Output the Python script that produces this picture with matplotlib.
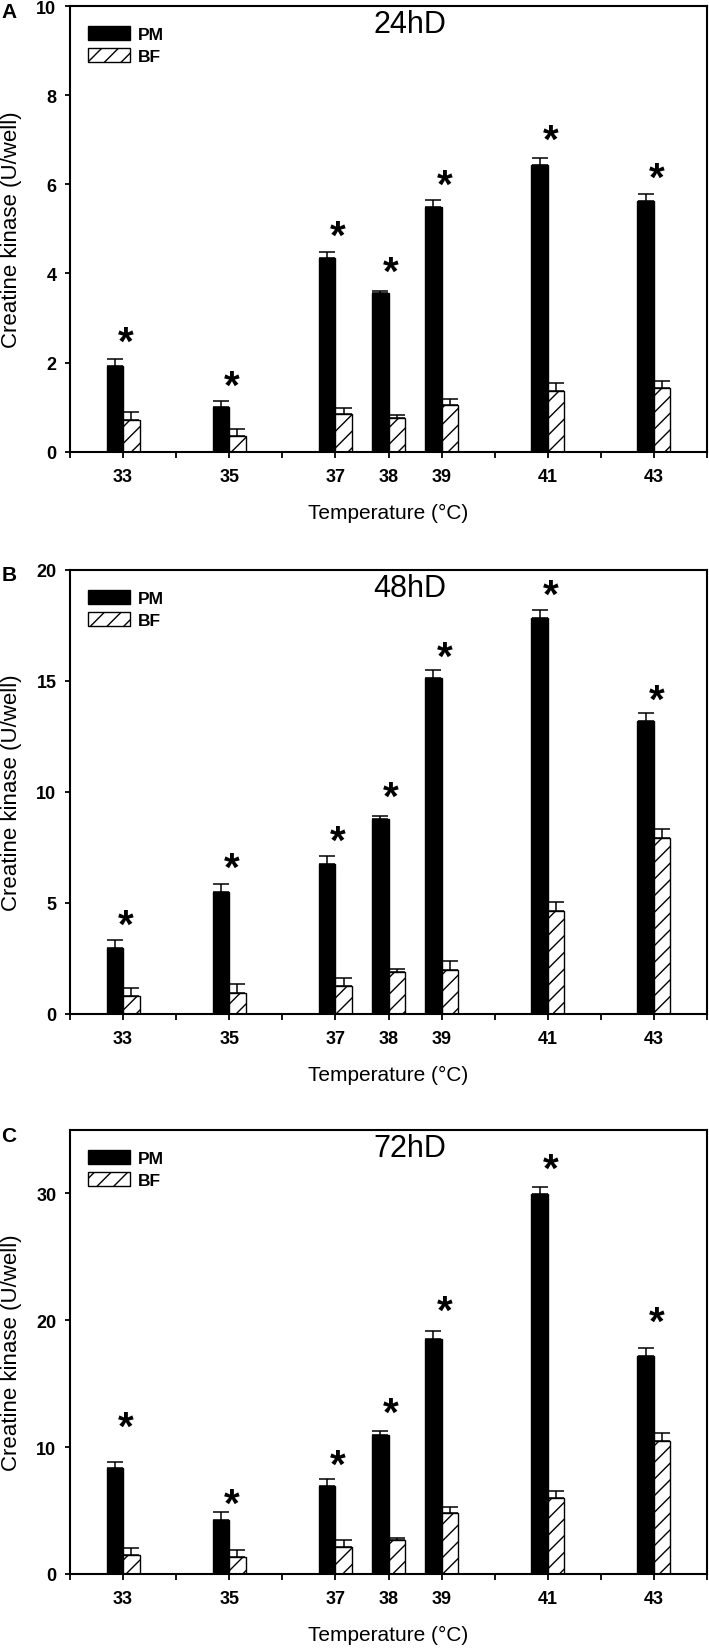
import numpy as np
import matplotlib
matplotlib.use("Agg")
import matplotlib.pyplot as plt
from matplotlib.transforms import offset_copy

plt.rcParams['font.family'] = ['Liberation Sans', 'DejaVu Sans']
plt.rcParams['hatch.linewidth'] = 1.0

temps = [33, 35, 37, 38, 39, 41, 43]

# 24 h differentiation
pm_24 = [1.93, 1.00, 4.34, 3.55, 5.48, 6.44, 5.63]
pm_24_err = [0.16, 0.13, 0.15, 0.05, 0.16, 0.16, 0.15]
bf_24 = [0.72, 0.36, 0.84, 0.76, 1.05, 1.37, 1.43]
bf_24_err = [0.16, 0.15, 0.14, 0.06, 0.14, 0.17, 0.16]
star_24 = [2.70, 1.72, 5.09, 4.27, 6.24, 7.23, 6.38]

# 48 h differentiation
pm_48 = [2.99, 5.51, 6.76, 8.76, 15.14, 17.82, 13.18]
pm_48_err = [0.36, 0.36, 0.37, 0.15, 0.35, 0.38, 0.38]
bf_48 = [0.80, 0.95, 1.24, 1.91, 1.99, 4.65, 7.93]
bf_48_err = [0.39, 0.38, 0.40, 0.13, 0.39, 0.37, 0.38]
star_48 = [4.51, 7.08, 8.28, 10.24, 16.55, 19.36, 14.62]

# 72 h differentiation
pm_72 = [8.36, 4.28, 6.91, 10.99, 18.53, 29.95, 17.21]
pm_72_err = [0.49, 0.57, 0.54, 0.26, 0.62, 0.54, 0.60]
bf_72 = [1.51, 1.34, 2.14, 2.65, 4.80, 5.97, 10.51]
bf_72_err = [0.52, 0.52, 0.54, 0.17, 0.46, 0.54, 0.60]
star_72 = [12.42, 6.42, 9.42, 13.56, 21.61, 32.83, 20.75]

panels = [
    ("A", "24hD", pm_24, pm_24_err, bf_24, bf_24_err, star_24, 10, np.arange(0, 11, 2)),
    ("B", "48hD", pm_48, pm_48_err, bf_48, bf_48_err, star_48, 20, np.arange(0, 21, 5)),
    ("C", "72hD", pm_72, pm_72_err, bf_72, bf_72_err, star_72, 35, np.arange(0, 31, 10)),
]

W, H = 709, 1649
fig = plt.figure(figsize=(W / 100, H / 100), dpi=100)

# axes boxes in pixels: (top, bottom)
boxes = [(7, 452.7), (570.7, 1015), (1131, 1575)]
left_px, right_px = 70, 707
width = 0.31

for (letter, title, pm, pm_err, bf, bf_err, stars, ymax, yticks), (top, bot) in zip(panels, boxes):
    ax = fig.add_axes([left_px / W, 1 - bot / H, (right_px - left_px) / W, (bot - top) / H])
    x = np.array(temps, dtype=float)
    pm_bars = ax.bar(x - width / 2, pm, width, color='black', edgecolor='black', label='PM', zorder=2)
    bf_bars = ax.bar(x + width / 2, bf, width, color='white', edgecolor='black', linewidth=1.0,
                     hatch='//', label='BF', zorder=2)
    ax.errorbar(x - width / 2, pm, yerr=[np.zeros(len(pm)), pm_err], fmt='none', ecolor='black',
                elinewidth=1.1, capsize=6, capthick=1.1, zorder=1)
    ax.errorbar(x + width / 2, bf, yerr=[np.zeros(len(bf)), bf_err], fmt='none', ecolor='black',
                elinewidth=1.1, capsize=6, capthick=1.1, zorder=1)

    fs_star = 29
    trans = offset_copy(ax.transData, fig=fig, y=-0.565 * fs_star, units='points')
    for t, s in zip(temps, stars):
        ax.text(t + 0.05, s, '*', fontsize=fs_star, fontweight='bold', ha='center',
                va='baseline', transform=trans)

    ax.set_xlim(32, 44)
    ax.set_ylim(0, ymax)
    ticks = list(range(32, 45))
    ax.set_xticks(ticks)
    ax.set_xticklabels([str(t) if t in temps else '' for t in ticks], fontsize=13, fontweight='bold')
    ax.set_yticks(yticks)
    ax.set_yticklabels([str(v) for v in yticks], fontsize=13, fontweight='bold')
    ax.tick_params(axis='x', direction='out', length=4.5, width=1.3, pad=7)
    ax.tick_params(axis='y', direction='out', length=3.8, width=1.3, pad=6)
    for sp in ax.spines.values():
        sp.set_linewidth(1.5)

    ax.set_xlabel('Temperature (°C)', fontsize=15, labelpad=13)
    ax.set_ylabel('Creatine kinase (U/well)', fontsize=16, labelpad=10)

    ax.text(0.534, 1 - 18 / (bot - top), title, transform=ax.transAxes, fontsize=22,
            ha='center', va='center')

    ax.legend(handles=[pm_bars, bf_bars], labels=['PM', 'BF'], loc='upper left',
              bbox_to_anchor=(0.028, 1 - 20 / (bot - top)), frameon=False, borderpad=0,
              borderaxespad=0, handlelength=2.4, handleheight=0.85, labelspacing=0.35,
              handletextpad=0.5, prop={'size': 12.5, 'weight': 'bold'})

    fig.text(9 / W, 1 - (top + 5) / H, letter, fontsize=15, fontweight='bold',
             ha='center', va='center')

fig.savefig('out.png', dpi=100)
